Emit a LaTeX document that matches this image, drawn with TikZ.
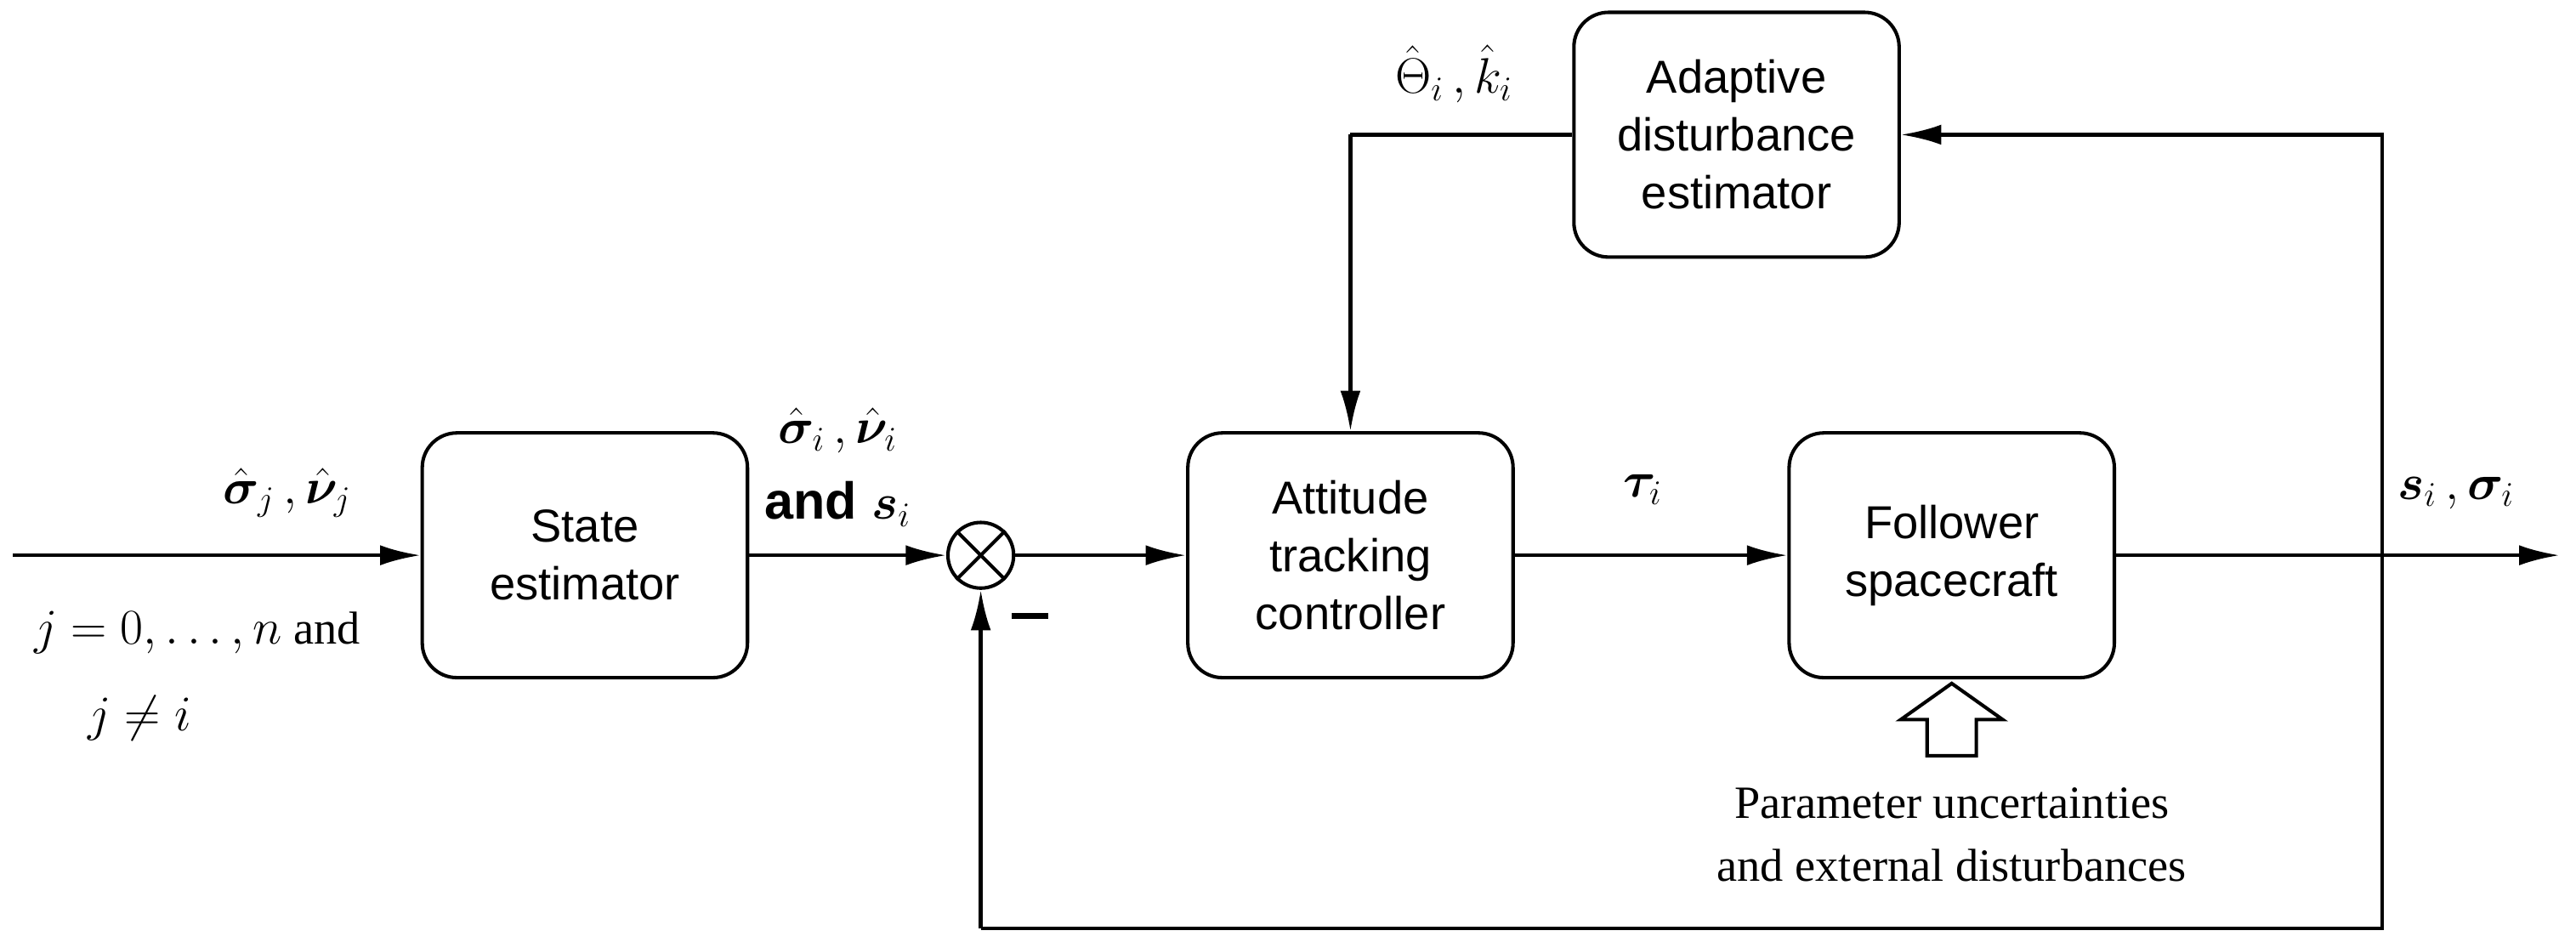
\documentclass[tikz,border=0pt]{standalone}
\usepackage{amsmath,bm}
\usepackage{fontspec}
\setmainfont{Liberation Sans}
\newfontfamily\serif{Liberation Serif}
\usetikzlibrary{positioning,arrows.meta,shapes.geometric}
\tikzset{
 blk/.style={draw, line width=1.2pt, rounded corners=12pt, minimum width=3.96cm, minimum height=2.98cm, align=center, font=\fontsize{16}{20}\selectfont},
 sig/.style={line width=1.3pt, -{Latex[length=14pt,width=7pt]}},
 wire/.style={line width=1.3pt},
 lbl/.style={font=\fontsize{18}{22}\selectfont, inner sep=1pt}
}
\begin{document}
\begin{tikzpicture}[x=0.02cm, y=-0.02cm]
\useasboundingbox (0,0) rectangle (1568,573);

 % Blocks
 \node[blk] (est) at (356,338) {State\\estimator};
 \node[blk] (ctrl) at (822,338) {Attitude\\tracking\\controller};
 \node[blk] (sc) at (1188,338) {Follower\\spacecraft};
 \node[blk] (ade) at (1057,82) {Adaptive\\disturbance\\estimator};
 \node[circle, draw, line width=1.2pt, minimum size=0.8cm, inner sep=0pt] (sum) at (597,338) {};
 \draw[line width=1.2pt] (sum.north west) -- (sum.south east) (sum.north east) -- (sum.south west);

 \coordinate (in) at (8,338);
 \coordinate (out) at (1558,338);
 \coordinate (br) at (1450,338);
 \coordinate (bl) at (1450,565);
 \coordinate (fl) at (597,565);
 \coordinate (tr) at (1450,82);
 \coordinate (tl) at (822,82);

 % Signals
 \draw[sig] (in) -- (est);
 \draw[sig] (est) -- (sum);
 \draw[sig] (sum) -- (ctrl);
 \draw[sig] (ctrl) -- (sc);
 \draw[sig] (sc) -- (out);
 \draw[wire] (br) -- (bl) -- (fl);
 \draw[sig] (fl) -- (sum);
 \draw[sig] (br) -- (tr) -- (ade);
 \draw[wire] (ade) -- (tl);
 \draw[sig] (tl) -- (ctrl);

 % Hollow arrow
 \draw[line width=1.2pt] (1173,460) -- (1173,438) -- (1157,438) -- (1188,416) -- (1219,438) -- (1203,438) -- (1203,460) -- cycle;

 % Labels
 \node[lbl] at (175,300) {$\bm{\hat\sigma}_j\,,\bm{\hat\nu}_j$};
 \node[lbl, font=\serif\fontsize{16}{20}\selectfont] at (120,385) {$j=0,\ldots,n$ and};
 \node[lbl, font=\serif\fontsize{16}{20}\selectfont] at (85,437) {$j\neq i$};
 \node[lbl] at (510,262) {$\bm{\hat\sigma}_i\,,\bm{\hat\nu}_i$};
 \node[lbl] at (510,307) {\textbf{and} $\bm{s}_i$};
 \draw[line width=2pt] (616,375) -- (638,375);
 \node[lbl] at (1000,298) {$\bm{\tau}_i$};
 \node[lbl] at (1495,300) {$\bm{s}_i\,,\bm{\sigma}_i$};
 \node[lbl] at (885,45) {$\hat\Theta_i\,,\hat k_i$};
 \node[lbl, align=center, font=\serif\fontsize{16}{22}\selectfont] at (1188,508) {Parameter uncertainties\\and external disturbances};
\end{tikzpicture}
\end{document}
